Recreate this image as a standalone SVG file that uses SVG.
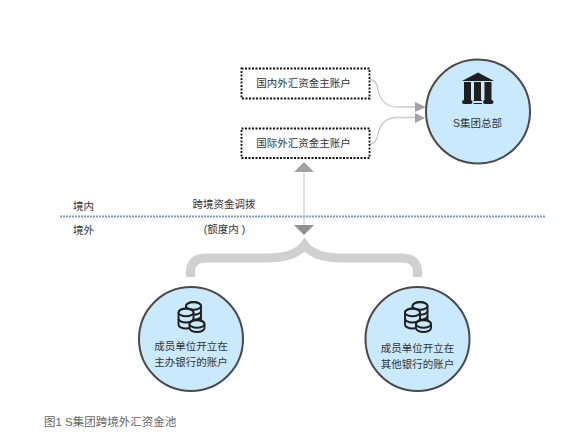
<svg xmlns="http://www.w3.org/2000/svg" width="586" height="440" viewBox="0 0 586 440">
<style>
text{font-family:"Liberation Sans","Noto Sans CJK SC",sans-serif;font-size:10.5px;fill:#333}
.m{text-anchor:middle}
.box{fill:#fff;stroke:#111;stroke-width:1.800;stroke-dasharray:2 1.500}
.circ{fill:#c9e9fd;stroke:#4a4a4a;stroke-width:2}
.curve{fill:none;stroke:#cacaca;stroke-width:1.300}
.head{fill:#a3a3a5}
.coin{fill:#c9e9fd;stroke:#1f1f1f;stroke-width:1.900}
.bar{fill:#1f1f1f}
</style>
<defs>
<g id="coins" class="coin">
<path d="M186 306c0-2.300 3.400-4 7.500-4s7.500 1.700 7.500 4v14h-15z"/>
<path d="M186 311c0 2.200 3.400 3.800 7.500 3.800s7.500-1.600 7.500-3.800M186 316c0 2.200 3.400 3.800 7.500 3.800s7.500-1.600 7.500-3.800" fill="none"/>
<ellipse cx="193.500" cy="306" rx="7.500" ry="3.800"/>
<path d="M178.500 312.500c0-2.300 3.400-4 7.500-4s7.500 1.700 7.500 4v12c0 2.300-3.400 4-7.500 4s-7.500-1.700-7.500-4z"/>
<path d="M178.500 318.500c0 2.300 3.400 4 7.500 4s7.500-1.700 7.500-4" fill="none"/>
<ellipse cx="186" cy="312.500" rx="7.500" ry="3.800"/>
<path d="M189.500 324c0-2.300 3.400-4 7.500-4s7.500 1.700 7.500 4v4c0 2.300-3.400 4-7.500 4s-7.500-1.700-7.500-4z"/>
<ellipse cx="197" cy="324" rx="7.500" ry="3.800"/>
</g>
</defs>
<g id="connectors">
<path class="curve" d="M370 79.500c5 0 7 4 8 10 2 11 8 17.500 20 17.500h18"/>
<path class="curve" d="M370 144c5 0 7-4 8-10 2-11 8-16.500 20-16.500h18"/>
<polygon class="head" points="415,102 426,107 415,112"/>
<polygon class="head" points="415,113 425,118 415,123"/>
<line x1="304" y1="170" x2="304" y2="226" stroke="#c4c4c4" stroke-width="1"/>
<polygon class="head" points="304,162 314,172 294,172"/>
<polygon fill="#8f8f91" points="294,225 314,225 304,235"/>
<path d="M190.500 277v-5c0-9 5-14 15-14h62c20 0 31-5 37-13c6 8 17 13 37 13h61c10 0 15 5 15 14v5" fill="none" stroke="#d0d0d0" stroke-width="9"/>
</g>
<line x1="60" y1="216.500" x2="545" y2="216.500" stroke="#7d9bc8" stroke-width="2" stroke-dasharray="2 1"/>
<g id="node-domestic"><rect class="box" x="241.500" y="68.500" width="128" height="30"/><text class="m" x="303.500" y="87">国内外汇资金主账户</text></g>
<g id="node-international"><rect class="box" x="241.500" y="128.500" width="128" height="29.500"/><text class="m" x="303.500" y="147">国际外汇资金主账户</text></g>
<g id="node-hq">
<circle class="circ" cx="478" cy="111.500" r="52"/>
<polygon class="bar" points="462,81 478,72.500 494,81"/>
<rect class="bar" x="464" y="82" width="7" height="18"/><rect class="bar" x="474" y="82" width="7" height="18"/><rect class="bar" x="484.500" y="82" width="7" height="18"/>
<rect class="bar" x="462" y="100" width="10.500" height="4" rx="2"/><rect class="bar" x="483" y="100" width="10.500" height="4" rx="2"/>
<path d="M473.500 100.500h8.500M473.500 103.500h8.500" stroke="#1f1f1f" stroke-width="1"/>
<text class="m" x="477.500" y="127">S集团总部</text>
</g>
<text x="73" y="210">境内</text>
<text x="73" y="234">境外</text>
<text class="m" x="224" y="208">跨境资金调拨</text>
<text class="m" x="224.500" y="233">(额度内 )</text>
<g id="node-main-bank">
<circle class="circ" cx="191" cy="339" r="52"/>
<use href="#coins"/>
<text class="m" x="191" y="350">成员单位开立在</text>
<text class="m" x="191" y="366">主办银行的账户</text>
</g>
<g id="node-other-bank">
<circle class="circ" cx="417.500" cy="339" r="52"/>
<use href="#coins" x="226.500" y="0"/>
<text class="m" x="417.500" y="352">成员单位开立在</text>
<text class="m" x="417.500" y="368">其他银行的账户</text>
</g>
<text x="44" y="426" style="font-size:11.500px;fill:#666">图1 S集团跨境外汇资金池</text>
</svg>
